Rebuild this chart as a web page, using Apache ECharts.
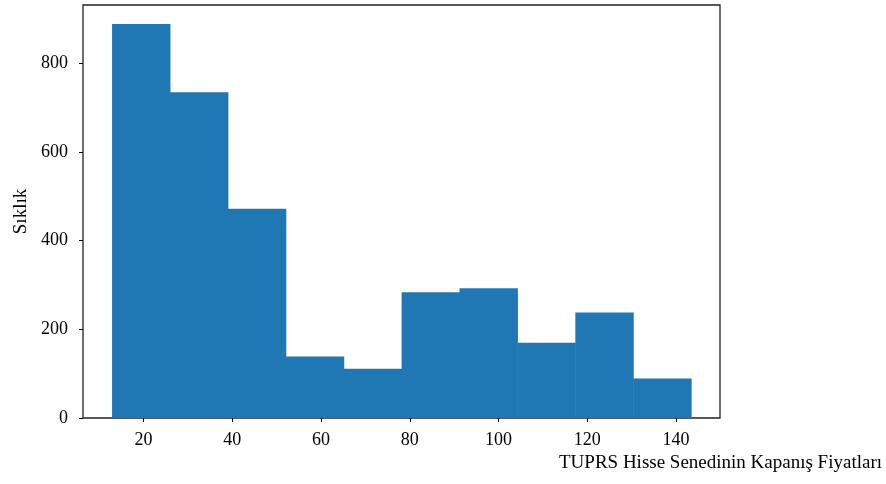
<!DOCTYPE html>
<html>
<head>
<meta charset="utf-8">
<title>TUPRS histogram</title>
<script src="https://cdn.jsdelivr.net/npm/echarts@6/dist/echarts.min.js"></script>
<style>
html, body { margin: 0; height: 100%; background: #fff; }
#main { width: 886px; height: 484px; }
</style>
</head>
<body>
<div id="main"></div>
<script>
// histogram bins (edges) and counts
var binStart = 12.9;
var binWidth = 13.05;
var counts = [889, 735, 472, 139, 111, 284, 293, 170, 238, 89];
var xTicks = [20, 40, 60, 80, 100, 120, 140];
var yTicks = [0, 200, 400, 600, 800];

var bars = counts.map(function (c, i) {
    return [binStart + i * binWidth, binStart + (i + 1) * binWidth, c];
});

var font = 'Liberation Serif';
var chart = echarts.init(document.getElementById('main'));

chart.setOption({
    animation: false,
    title: {
        text: 'TUPRS Hisse Senedinin Kapanış Fiyatları',
        right: 4,
        top: 454,
        padding: 0,
        textStyle: { fontFamily: font, fontSize: 19, fontWeight: 'normal', color: '#000' }
    },
    grid: {
        left: 83, right: 166, top: 5, bottom: 66,
        show: true, borderColor: '#222', borderWidth: 1.3
    },
    xAxis: {
        type: 'value',
        min: 6.35,
        max: 149.9,
        splitLine: { show: false },
        axisLine: { show: false },
        axisTick: { show: true, length: 4, customValues: xTicks, lineStyle: { color: '#000' } },
        axisLabel: {
            customValues: xTicks, margin: 13,
            fontFamily: font, fontSize: 18, color: '#000'
        }
    },
    yAxis: {
        type: 'value',
        min: 0,
        max: 932,
        name: 'Sıklık',
        nameLocation: 'middle',
        nameGap: 52,
        nameTextStyle: { fontFamily: font, fontSize: 19, color: '#000' },
        splitLine: { show: false },
        axisLine: { show: false },
        axisTick: { show: true, length: 4, customValues: yTicks, lineStyle: { color: '#000' } },
        axisLabel: {
            customValues: yTicks, margin: 15,
            fontFamily: font, fontSize: 18, color: '#000'
        }
    },
    series: [{
        type: 'custom',
        data: bars,
        encode: { x: [0, 1], y: 2 },
        renderItem: function (params, api) {
            var p0 = api.coord([api.value(0), api.value(2)]);
            var p1 = api.coord([api.value(1), 0]);
            return {
                type: 'rect',
                shape: { x: p0[0], y: p0[1], width: p1[0] - p0[0] + 0.5, height: p1[1] - p0[1] },
                style: { fill: '#1f77b4' }
            };
        }
    }]
});
</script>
</body>
</html>
